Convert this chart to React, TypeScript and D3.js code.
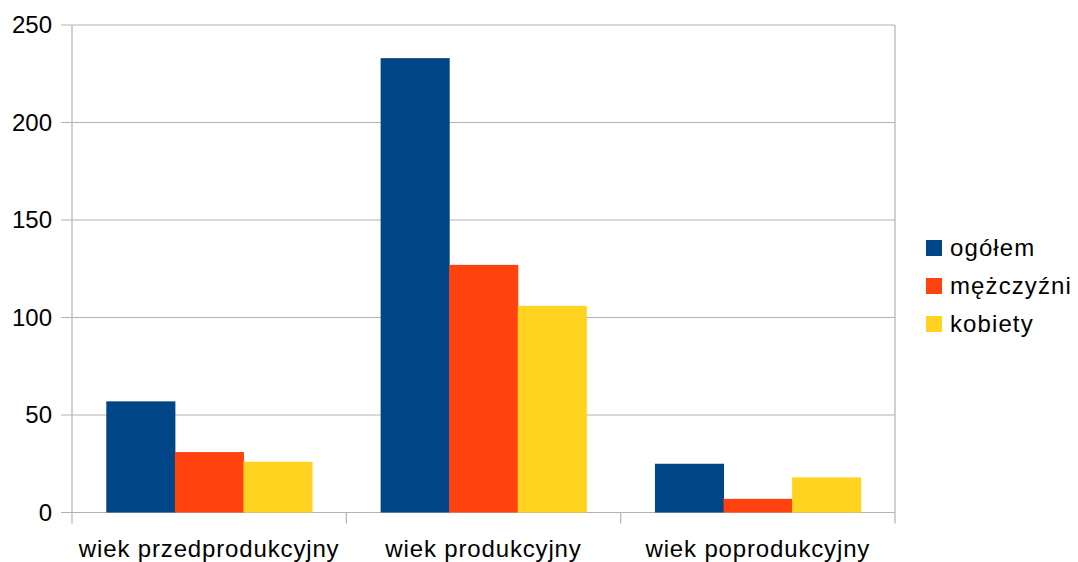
import React, { useEffect, useRef } from "react";
import * as d3 from "d3";

const categories = ["wiek przedprodukcyjny", "wiek produkcyjny", "wiek poprodukcyjny"];
const seriesNames = ["ogółem", "mężczyźni", "kobiety"];
const ogolem = [57, 233, 25];
const mezczyzni = [31, 127, 7];
const kobiety = [26, 106, 18];
const yTicks = [0, 50, 100, 150, 200, 250];
const colors = ["#004586", "#ff420e", "#ffd320"];

const App: React.FC = () => {
  const svgRef = useRef<SVGSVGElement>(null);

  const width = 1078;
  const height = 562;
  const margin = { top: 25, right: 183, bottom: 49.5, left: 72 };
  const innerW = width - margin.left - margin.right;
  const innerH = height - margin.top - margin.bottom;

  useEffect(() => {
    if (!svgRef.current) return;
    const svg = d3.select(svgRef.current);
    svg.selectAll("*").remove();

    const font = "'Liberation Sans', Arial, sans-serif";
    const grid = "#b3b3b3";

    const x0 = d3.scaleBand<string>().domain(categories).range([0, innerW]).paddingInner(0).paddingOuter(0);
    const x1 = d3
      .scaleBand<string>()
      .domain(seriesNames)
      .range([0, x0.bandwidth()])
      .paddingOuter(0.5)
      .paddingInner(0);
    const y = d3.scaleLinear().domain([0, 250]).range([innerH, 0]);

    const g = svg.append("g").attr("transform", `translate(${margin.left},${margin.top})`);

    // horizontal gridlines
    g.append("g")
      .selectAll("line")
      .data(yTicks)
      .enter()
      .append("line")
      .attr("x1", -11)
      .attr("x2", innerW)
      .attr("y1", d => y(d))
      .attr("y2", d => y(d))
      .attr("stroke", grid)
      .attr("stroke-width", 1.2);

    // y tick labels
    g.append("g")
      .selectAll("text")
      .data(yTicks)
      .enter()
      .append("text")
      .attr("x", -20)
      .attr("y", d => y(d))
      .attr("dy", "0.35em")
      .attr("text-anchor", "end")
      .attr("font-family", font)
      .attr("font-size", 24)
      .attr("fill", "#000")
      .text(d => d);

    // left axis + right border
    g.append("line")
      .attr("x1", 0).attr("x2", 0)
      .attr("y1", 0).attr("y2", innerH + 11)
      .attr("stroke", grid).attr("stroke-width", 1.2);

    // category boundary ticks
    const bounds = categories.map(c => x0(c) as number).concat([innerW]);
    g.append("g")
      .selectAll("line")
      .data(bounds.slice(1))
      .enter()
      .append("line")
      .attr("x1", d => d)
      .attr("x2", d => d)
      .attr("y1", (d, i) => (i === bounds.length - 2 ? 0 : innerH))
      .attr("y2", innerH + 11)
      .attr("stroke", grid)
      .attr("stroke-width", 1.2);

    // bars
    const series = [ogolem, mezczyzni, kobiety];
    const groups = g
      .append("g")
      .selectAll("g")
      .data(categories)
      .enter()
      .append("g")
      .attr("transform", d => `translate(${x0(d)},0)`);

    groups
      .selectAll("rect")
      .data((d, i) => seriesNames.map((s, j) => ({ s, v: series[j][i], j })))
      .enter()
      .append("rect")
      .attr("x", d => x1(d.s) as number)
      .attr("width", x1.bandwidth() + 0.5)
      .attr("y", d => y(d.v))
      .attr("height", d => innerH - y(d.v))
      .attr("fill", d => colors[d.j]);

    // x labels
    g.append("g")
      .selectAll("text")
      .data(categories)
      .enter()
      .append("text")
      .attr("x", d => (x0(d) as number) + x0.bandwidth() / 2)
      .attr("y", innerH + 36)
      .attr("dy", "0.35em")
      .attr("text-anchor", "middle")
      .attr("font-family", font)
      .attr("font-size", 24)
      .attr("letter-spacing", 0.85)
      .attr("fill", "#000")
      .text(d => d);

    // legend
    const legend = svg
      .append("g")
      .attr("transform", `translate(926,248)`);
    const items = legend
      .selectAll("g")
      .data(seriesNames)
      .enter()
      .append("g")
      .attr("transform", (d, i) => `translate(0,${i * 38})`);
    items
      .append("rect")
      .attr("x", 0)
      .attr("y", -8)
      .attr("width", 16)
      .attr("height", 16)
      .attr("fill", (d, i) => colors[i]);
    items
      .append("text")
      .attr("x", 24)
      .attr("y", 0)
      .attr("dy", "0.35em")
      .attr("font-family", font)
      .attr("font-size", 24)
      .attr("letter-spacing", 1.1)
      .attr("fill", "#000")
      .text(d => d);
  }, []);

  return (
    <svg
      ref={svgRef}
      width={width}
      height={height}
      style={{ position: "absolute", left: 0, top: 0, background: "#fff" }}
    />
  );
};

export default App;
